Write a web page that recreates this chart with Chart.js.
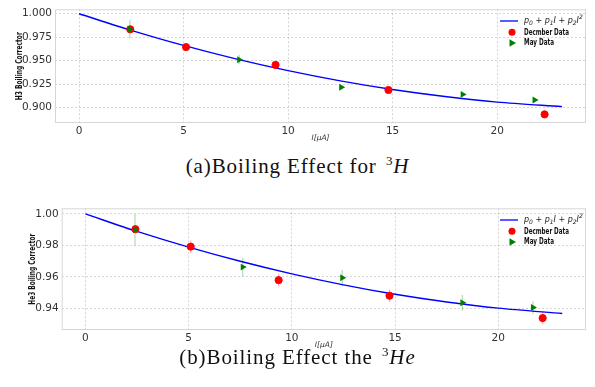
<!DOCTYPE html>
<html>
<head>
<meta charset="utf-8">
<script src="https://cdn.jsdelivr.net/npm/chart.js@4.4.1/dist/chart.umd.min.js"></script>
<style>
body { margin: 0; background: #fff; width: 595px; height: 387px; overflow: hidden; position: relative; }
.box { position: absolute; left: 0; width: 595px; }
.cap { position: absolute; left: 0; width: 595px; text-align: center; font-family: "Liberation Serif", serif; font-size: 21px; letter-spacing: 0.9px; color: #111; white-space: nowrap; }
.cap .sup { font-size: 13px; position: relative; top: -8px; margin-left: 3px; }
</style>
</head>
<body>
<div class="box" style="top:0;height:148px"><canvas id="h3Chart"></canvas></div>
<div class="cap" style="top:154px">(a)Boiling Effect for <span class="sup">3</span><i>H</i></div>
<div class="box" style="top:190px;height:165px"><canvas id="he3Chart"></canvas></div>
<div class="cap" style="top:345px">(b)Boiling Effect the <span class="sup">3</span><i>He</i></div>
<script>
// x ticks shared by both panels
const xTicks = [0, 5, 10, 15, 20];

// ---- H3 panel ----
const h3YTicks = [0.900, 0.925, 0.950, 0.975, 1.000];
const h3FitI = [0, 2.5, 5, 7.5, 10, 12.5, 15, 17.5, 20, 23.1];
const h3Fit = [1.000, 0.9823, 0.9662, 0.9519, 0.9393, 0.9284, 0.9192, 0.9117, 0.9058, 0.901];
const h3DecI = [2.45, 5.12, 9.4, 14.8, 22.27];
const h3Dec = [0.9834, 0.9644, 0.9454, 0.9187, 0.8927];
const h3DecErr = [0.001, 0.001, 0.001, 0.001, 0.001];
const h3MayI = [2.43, 7.66, 12.54, 18.35, 21.79];
const h3May = [0.9835, 0.951, 0.9217, 0.914, 0.908];
const h3MayErr = [0.010, 0.005, 0.002, 0.002, 0.002];

// ---- He3 panel ----
const he3YTicks = [0.94, 0.96, 0.98, 1.00];
const he3FitI = [0, 2.5, 5, 7.5, 10, 12.5, 15, 17.5, 20, 23.1];
const he3Fit = [1.000, 0.9889, 0.9789, 0.9699, 0.9619, 0.9549, 0.9489, 0.944, 0.9401, 0.9367];
const he3DecI = [2.42, 5.1, 9.36, 14.73, 22.15];
const he3Dec = [0.9903, 0.9792, 0.9579, 0.948, 0.9338];
const he3DecErr = [0.002, 0.004, 0.004, 0.004, 0.004];
const he3MayI = [2.4, 7.62, 12.44, 18.26, 21.68];
const he3May = [0.990, 0.9662, 0.9594, 0.9435, 0.9405];
const he3MayErr = [0.010, 0.006, 0.005, 0.005, 0.004];

const pts = (xs, ys) => xs.map((x, i) => ({ x: x, y: ys[i] }));
const boldNarrow = 'bold 9px "Liberation Sans Narrow", "DejaVu Sans Condensed", "DejaVu Sans", sans-serif';

// vertical error bars, drawn under the markers
const errorBars = {
    id: 'errorBars',
    beforeDatasetsDraw(chart) {
        const ctx = chart.ctx, xs = chart.scales.x, ys = chart.scales.y;
        chart.data.datasets.forEach(ds => {
            if (!ds.errors) return;
            ctx.save();
            ctx.strokeStyle = ds.errColor;
            ctx.lineWidth = 1.2;
            ds.data.forEach((p, i) => {
                const px = xs.getPixelForValue(p.x);
                ctx.beginPath();
                ctx.moveTo(px, ys.getPixelForValue(p.y - ds.errors[i]));
                ctx.lineTo(px, ys.getPixelForValue(p.y + ds.errors[i]));
                ctx.stroke();
            });
            ctx.restore();
        });
    }
};

// light frame on all four sides, plus the condensed y title
const frame = {
    id: 'frame',
    afterDraw(chart, args, opts) {
        const a = chart.chartArea, ctx = chart.ctx;
        ctx.save();
        ctx.strokeStyle = '#d6d6d6';
        ctx.lineWidth = 1;
        ctx.strokeRect(a.left + 0.5, a.top + 0.5, a.right - a.left - 1, a.bottom - a.top - 1);
        ctx.translate(opts.titleX, (a.top + a.bottom) / 2);
        ctx.rotate(-Math.PI / 2);
        ctx.fillStyle = '#111';
        ctx.font = boldNarrow;
        ctx.textAlign = 'center';
        ctx.textBaseline = 'middle';
        ctx.fillText(opts.title, 0, 0, opts.titleW);
        ctx.restore();
    }
};

// legend drawn by hand so the formula can have sub/superscripts
const fitLegend = {
    id: 'fitLegend',
    afterDraw(chart) {
        const a = chart.chartArea, ctx = chart.ctx;
        const ds = chart.data.datasets;
        const mx = a.right - 74, tx = a.right - 62;
        const r1 = a.top + 11.7, r2 = a.top + 23, r3 = a.top + 33.7;
        ctx.save();
        // line sample
        ctx.strokeStyle = ds[0].borderColor;
        ctx.lineWidth = 1.3;
        ctx.beginPath();
        ctx.moveTo(a.right - 86, r1);
        ctx.lineTo(a.right - 68, r1);
        ctx.stroke();
        // formula p0 + p1 I + p2 I^2
        ctx.fillStyle = '#222';
        ctx.textBaseline = 'middle';
        const big = 'italic 8px "DejaVu Sans"', small = 'italic 6px "DejaVu Sans"';
        const parts = [
            ['p', big, 0], ['0', small, 2.3], [' + ', big, 0], ['p', big, 0], ['1', small, 2.3],
            ['I', big, 0], [' + ', big, 0], ['p', big, 0], ['2', small, 2.3], ['I', big, 0], ['2', small, -3.2]
        ];
        let x = tx;
        parts.forEach(([t, f, dy]) => {
            ctx.font = f;
            ctx.fillText(t, x, r1 + dy);
            x += ctx.measureText(t).width;
        });
        // markers
        ctx.fillStyle = ds[1].backgroundColor;
        ctx.beginPath();
        ctx.arc(mx, r2, 3.5, 0, Math.PI * 2);
        ctx.fill();
        ctx.fillStyle = ds[2].backgroundColor;
        ctx.beginPath();
        ctx.moveTo(mx + 4, r3);
        ctx.lineTo(mx - 2.5, r3 - 3.8);
        ctx.lineTo(mx - 2.5, r3 + 3.8);
        ctx.closePath();
        ctx.fill();
        ctx.fillStyle = '#111';
        ctx.font = boldNarrow;
        ctx.fillText(ds[1].label, tx, r2, 45);
        ctx.fillText(ds[2].label, tx, r3, 30);
        ctx.restore();
    }
};

function makeChart(id, cfg) {
    const tickFont = { family: 'DejaVu Sans', size: 10.5 };
    const grid = { color: 'rgba(0,0,0,0.16)', drawTicks: false };
    new Chart(document.getElementById(id), {
        type: 'scatter',
        data: {
            datasets: [{
                label: 'fit',
                data: pts(cfg.fitI, cfg.fit),
                showLine: true,
                borderColor: '#0000ff',
                borderWidth: 1.4,
                pointRadius: 0,
                tension: 0.3,
                order: 3
            }, {
                label: 'Decmber Data',
                data: pts(cfg.decI, cfg.dec),
                errors: cfg.decErr,
                errColor: 'rgba(255,0,0,0.3)',
                backgroundColor: '#ff0000',
                borderColor: '#ff0000',
                pointStyle: 'circle',
                pointRadius: 3.6,
                order: 2
            }, {
                label: 'May Data',
                data: pts(cfg.mayI, cfg.may),
                errors: cfg.mayErr,
                errColor: 'rgba(0,128,0,0.3)',
                backgroundColor: '#008000',
                borderColor: '#008000',
                pointStyle: 'triangle',
                rotation: 90,
                pointRadius: 4,
                borderWidth: 0,
                order: 1
            }]
        },
        options: {
            responsive: true,
            maintainAspectRatio: false,
            animation: false,
            layout: { padding: { left: 0, right: 9, top: cfg.padTop, bottom: 0 } },
            plugins: {
                legend: { display: false },
                tooltip: { enabled: false },
                frame: { title: cfg.yTitle, titleX: cfg.titleX, titleW: cfg.titleW }
            },
            scales: {
                x: {
                    type: 'linear',
                    min: -1.15,
                    max: 24.25,
                    grid: grid,
                    border: { display: false, dash: [2, 2] },
                    afterBuildTicks: s => { s.ticks = xTicks.map(v => ({ value: v })); },
                    afterFit: s => { s.height = 25; },
                    ticks: { font: tickFont, color: '#333', padding: 2, maxRotation: 0 },
                    title: {
                        display: true,
                        text: 'I[μA]',
                        font: { family: 'DejaVu Sans', size: 7.5, style: 'italic' },
                        color: '#333',
                        padding: { top: 0, bottom: 5.2 }
                    }
                },
                y: {
                    min: cfg.yMin,
                    max: cfg.yMax,
                    grid: grid,
                    border: { display: false, dash: [2, 2] },
                    afterBuildTicks: s => { s.ticks = cfg.yTicks.map(v => ({ value: v })); },
                    afterFit: s => { s.width = cfg.leftW; },
                    ticks: {
                        font: tickFont, color: '#333', padding: 3,
                        callback: v => v.toFixed(cfg.digits)
                    }
                }
            }
        },
        plugins: [errorBars, frame, fitLegend]
    });
}

window.onload = function() {
    makeChart('h3Chart', {
        fitI: h3FitI, fit: h3Fit, decI: h3DecI, dec: h3Dec, decErr: h3DecErr,
        mayI: h3MayI, may: h3May, mayErr: h3MayErr,
        yMin: 0.8835, yMax: 1.0047, yTicks: h3YTicks, digits: 3,
        yTitle: 'H3 Boiling Corrector', leftW: 55, titleX: 20, titleW: 68, padTop: 2
    });
    makeChart('he3Chart', {
        fitI: he3FitI, fit: he3Fit, decI: he3DecI, dec: he3Dec, decErr: he3DecErr,
        mayI: he3MayI, may: he3May, mayErr: he3MayErr,
        yMin: 0.9262, yMax: 1.0036, yTicks: he3YTicks, digits: 2,
        yTitle: 'He3 Boiling Corrector', leftW: 61.7, titleX: 32.3, titleW: 71, padTop: 18.3
    });
};
</script>
</body>
</html>
